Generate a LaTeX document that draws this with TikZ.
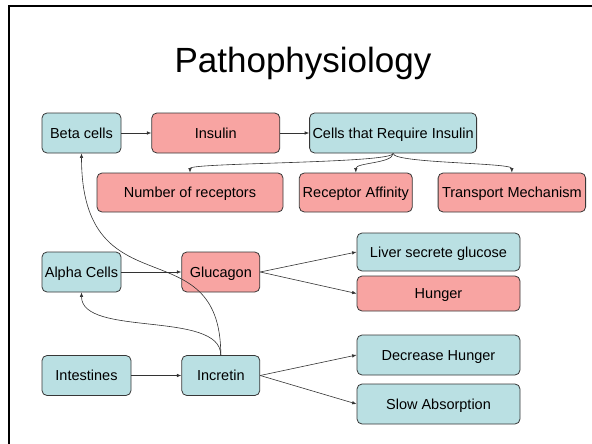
\documentclass[tikz,border=0pt]{standalone}
\usepackage{fontspec}
\setmainfont{Liberation Sans}
\usepackage{tikz}
\usetikzlibrary{positioning,arrows.meta}
\definecolor{boxblue}{RGB}{186,224,227}
\definecolor{boxred}{RGB}{248,164,162}
\definecolor{boxline}{RGB}{55,55,55}

\tikzset{
  cellbox/.style={draw=boxline,line width=0.8pt,rounded corners=5pt,minimum height=40pt,
    inner sep=0pt,text height=12pt,text depth=1.6pt,font=\fontsize{14.5}{16}\selectfont},
  bluebox/.style={cellbox,fill=boxblue},
  redbox/.style={cellbox,fill=boxred},
  link/.style={->,line width=0.6pt,draw=black!80},
}

\begin{document}
\begin{tikzpicture}[x=1pt,y=-1pt,>={Latex[length=4.5pt,width=3.5pt]},node distance=30pt]
\useasboundingbox (0,0) rectangle (592,444);
\draw[line width=2pt] (592,6) -- (9,6) -- (9,444);

\node (title) [anchor=base,font=\fontsize{35}{40}\selectfont] at (303,73) {Pathophysiology};

% insulin side
\node (beta) [bluebox,minimum width=79pt] at (81.5,133) {Beta cells};
\node (insulin) [redbox,minimum width=128pt,right=30pt of beta] {Insulin};
\node (cells) [bluebox,minimum width=167pt,right=29pt of insulin] {Cells that Require Insulin};
\node (numrec) [redbox,minimum width=186pt,minimum height=39pt] at (190,192.5) {Number of receptors};
\node (affinity) [redbox,minimum width=113pt,minimum height=39pt,right=15.5pt of numrec] {Receptor Affinity};
\node (transport) [redbox,minimum width=147.5pt,minimum height=39pt,right=25pt of affinity] {Transport Mechanism};

% glucagon side
\node (alpha) [bluebox,minimum width=79pt] at (81.5,272) {Alpha Cells};
\node (glucagon) [redbox,minimum width=78pt,right=60pt of alpha] {Glucagon};
\node (liver) [bluebox,minimum width=163pt,minimum height=38pt] at (438.5,252) {Liver secrete glucose};
\node (hunger) [redbox,minimum width=163pt,minimum height=35pt] at (438.5,293.5) {Hunger};

% incretin side
\node (intestines) [bluebox,minimum width=89pt] at (86.5,375.5) {Intestines};
\node (incretin) [bluebox,minimum width=78pt,right=50pt of intestines] {Incretin};
\node (dechunger) [bluebox,minimum width=163pt] at (438.5,355) {Decrease Hunger};
\node (slowabs) [bluebox,minimum width=163pt] at (438.5,404) {Slow Absorption};

\draw[link] (beta) -- (insulin);
\draw[link] (insulin) -- (cells);
\draw[link] (cells.south) .. controls +(0,10) and +(0,-10) .. (numrec.north);
\draw[link] (cells.south) .. controls +(0,10) and +(0,-10) .. (affinity.north);
\draw[link] (cells.south) .. controls +(0,10) and +(0,-10) .. (transport.north);

\draw[link] (alpha) -- (glucagon);
\draw[link] (glucagon.east) -- (liver.west);
\draw[link] (glucagon.east) -- (hunger.west);

\draw[link] (intestines) -- (incretin);
\draw[link] (incretin.east) -- (dechunger.west);
\draw[link] (incretin.east) -- (slowabs.west);
\draw[link] (incretin.north) .. controls +(0,-130) and +(0,160) .. (beta.south);
\draw[link] (incretin.north) .. controls +(0,-45) and +(0,45) .. (alpha.south);
\end{tikzpicture}
\end{document}
